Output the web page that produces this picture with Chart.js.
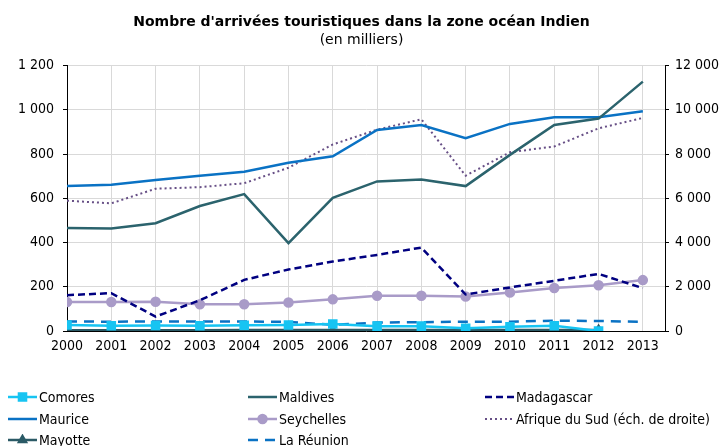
<!DOCTYPE html>
<html>
<head>
<meta charset="utf-8">
<script src="https://cdn.jsdelivr.net/npm/chart.js@4/dist/chart.umd.min.js"></script>
<style>
  body { margin: 0; background: #fff; }
  #wrap { position: relative; width: 723px; height: 446px; font-family: "DejaVu Sans Condensed", "DejaVu Sans", sans-serif; }
  #chart { position: absolute; left: 0; top: 0; }
  .leg { position: absolute; height: 20px; display: flex; align-items: center; font-size: 14px; color: #000; white-space: nowrap; }
  .leg canvas { margin-right: 2px; }
</style>
</head>
<body>
<div id="wrap">
  <canvas id="chart" width="723" height="446"></canvas>
  <div id="legend"></div>
</div>
<script>
// données (en milliers)
const years = [2000, 2001, 2002, 2003, 2004, 2005, 2006, 2007, 2008, 2009, 2010, 2011, 2012, 2013];
const comores    = [27, 24, 25, 24, 26, 27, 32, 22, 22, 12, 19, 24, 0, null];
const maldives   = [466, 463, 487, 565, 619, 397, 602, 676, 685, 655, 796, 931, 960, 1127];
const madagascar = [162, 171, 65, 139, 231, 278, 314, 344, 377, 165, 197, 227, 258, 194];
const maurice    = [655, 661, 682, 702, 720, 760, 790, 909, 931, 871, 936, 966, 966, 993];
const seychelles = [131, 131, 132, 121, 121, 129, 143, 159, 159, 156, 174, 194, 207, 230];
const afriqueSud = [5890, 5770, 6430, 6500, 6680, 7380, 8430, 9100, 9570, 7020, 8080, 8340, 9160, 9630];
const mayotte    = [3, 3, 3, 3, 4, 4, 4, 4, 4, 5, 5, 5, 5, null];
const reunion    = [43, 42, 43, 43, 43, 41, 28, 38, 40, 42, 42, 47, 45, 42];

const leftTicks = [0, 200, 400, 600, 800, 1000, 1200];
const rightTicks = [0, 2000, 4000, 6000, 8000, 10000, 12000];

const FONT = '"DejaVu Sans Condensed", "DejaVu Sans", sans-serif';
const FONT_WIDE = '"DejaVu Sans", sans-serif';

const pts = arr => years.map((y, i) => ({ x: y, y: arr[i] }));
const fmt = v => String(v).replace(/\B(?=(\d{3})+(?!\d))/g, ' ');

function line(label, arr, color, extra) {
  return Object.assign({
    label: label,
    data: pts(arr),
    borderColor: color,
    backgroundColor: color,
    borderWidth: 2.5,
    pointRadius: 0,
    tension: 0,
    spanGaps: false,
    yAxisID: 'y'
  }, extra || {});
}

const datasets = [
  line('Comores', comores, '#17c4f2', { pointStyle: 'rect', pointRadius: 5 }),
  line('Maldives', maldives, '#2b636d'),
  line('Madagascar', madagascar, '#000080', { borderDash: [7, 4] }),
  line('Maurice', maurice, '#0a72c4'),
  line('Seychelles', seychelles, '#a99bc8', { pointStyle: 'circle', pointRadius: 4 }),
  line('Afrique du Sud (éch. de droite)', afriqueSud, '#674f86', { borderWidth: 2, borderDash: [2, 3], yAxisID: 'y1' }),
  line('Mayotte', mayotte, '#2b5a66', { pointStyle: 'triangle', pointRadius: 4 }),
  line('La Réunion', reunion, '#0a72c4', { borderDash: [10, 7] })
];

const chart = new Chart(document.getElementById('chart'), {
  type: 'line',
  data: { datasets: datasets },
  options: {
    responsive: false,
    animation: false,
    layout: { padding: { left: 0, right: 0, top: 0, bottom: 90 } },
    plugins: {
      legend: { display: false },
      tooltip: { enabled: false },
      title: {
        display: true,
        text: "Nombre d'arrivées touristiques dans la zone océan Indien",
        color: '#000',
        font: { family: FONT_WIDE, size: 14, weight: 'bold', lineHeight: 1.2 },
        padding: { top: 13.6, bottom: 1.7 }
      },
      subtitle: {
        display: true,
        text: '(en milliers)',
        color: '#000',
        font: { family: FONT_WIDE, size: 14, lineHeight: 1.2 },
        padding: { top: 0, bottom: 16.6 }
      }
    },
    scales: {
      x: {
        type: 'linear',
        min: years[0],
        max: years[years.length - 1] + 0.5,
        afterBuildTicks: s => { s.ticks = years.map(v => ({ value: v })); },
        afterFit: s => { s.height = 25; },
        ticks: {
          autoSkip: false,
          maxRotation: 0,
          padding: 6.6,
          color: '#000',
          font: { family: FONT, size: 14 },
          callback: v => String(v)
        },
        grid: { color: '#d9d9d9', lineWidth: 1, drawTicks: false },
        border: { color: '#000', width: 1 }
      },
      y: {
        position: 'left',
        min: 0,
        max: 1200,
        afterBuildTicks: s => { s.ticks = leftTicks.map(v => ({ value: v })); },
        afterFit: s => { s.width = 67; },
        ticks: {
          padding: 9,
          color: '#000',
          font: { family: FONT, size: 14 },
          callback: v => fmt(v)
        },
        grid: { color: '#d9d9d9', lineWidth: 1, tickLength: 4, tickColor: '#000' },
        border: { color: '#000', width: 1 }
      },
      y1: {
        position: 'right',
        min: 0,
        max: 12000,
        afterBuildTicks: s => { s.ticks = rightTicks.map(v => ({ value: v })); },
        afterFit: s => { s.width = 58; },
        ticks: {
          padding: 6,
          color: '#000',
          font: { family: FONT, size: 14 },
          callback: v => fmt(v)
        },
        grid: { drawOnChartArea: false, tickLength: 4, tickColor: '#000' },
        border: { color: '#000', width: 1 }
      }
    }
  }
});

// légende en trois colonnes, construite à partir des jeux de données
const legendCols = [
  ['Comores', 'Maurice', 'Mayotte'],
  ['Maldives', 'Seychelles', 'La Réunion'],
  ['Madagascar', 'Afrique du Sud (éch. de droite)']
];
const colX = [8, 248, 485];
const rowY = [397, 419, 440];
const legendEl = document.getElementById('legend');

legendCols.forEach((col, c) => {
  col.forEach((name, r) => {
    const ds = datasets.find(d => d.label === name);
    const item = document.createElement('div');
    item.className = 'leg';
    item.style.left = colX[c] + 'px';
    item.style.top = (rowY[r] - 10) + 'px';
    const sw = document.createElement('canvas');
    sw.width = 29; sw.height = 12;
    const ctx = sw.getContext('2d');
    ctx.strokeStyle = ds.borderColor;
    ctx.lineWidth = ds.borderWidth;
    ctx.setLineDash(ds.borderDash || []);
    ctx.beginPath(); ctx.moveTo(0, 6); ctx.lineTo(29, 6); ctx.stroke();
    if (ds.pointRadius > 0) {
      ctx.setLineDash([]);
      ctx.fillStyle = ds.backgroundColor;
      Chart.helpers.drawPoint(ctx, { pointStyle: ds.pointStyle, radius: ds.pointRadius, borderWidth: 1 }, 14.5, 6);
    }
    item.appendChild(sw);
    const t = document.createElement('span');
    t.textContent = name;
    item.appendChild(t);
    legendEl.appendChild(item);
  });
});
</script>
</body>
</html>
